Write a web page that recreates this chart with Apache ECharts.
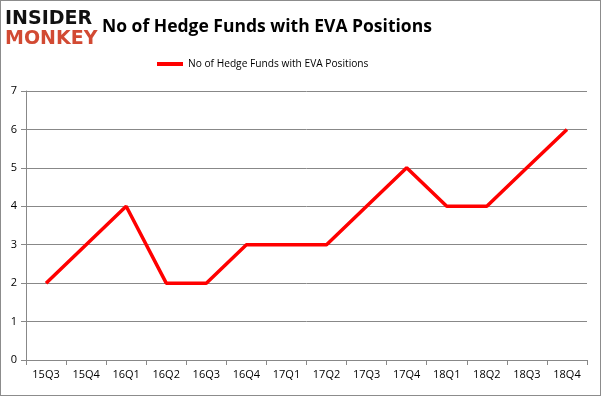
<!DOCTYPE html>
<html>
<head>
<meta charset="utf-8">
<script src="https://cdn.jsdelivr.net/npm/echarts@6/dist/echarts.min.js"></script>
<style>
  html, body { margin: 0; padding: 0; background: #fff; }
  #chart { width: 599px; height: 394px; border: 1px solid #8c8c8c; }
</style>
</head>
<body>
<div id="chart"></div>
<script>
// data
const quarters = ['15Q3', '15Q4', '16Q1', '16Q2', '16Q3', '16Q4', '17Q1', '17Q2', '17Q3', '17Q4', '18Q1', '18Q2', '18Q3', '18Q4'];
const fundCounts = [2, 3, 4, 2, 2, 3, 3, 3, 4, 5, 4, 4, 5, 6];
const seriesName = 'No of Hedge Funds with EVA Positions';

const chart = echarts.init(document.getElementById('chart'));

var option = {
  backgroundColor: '#ffffff',
  animation: false,
  color: ['#ff0000'],
  title: {
    text: 'No of Hedge Funds with EVA Positions',
    left: 96,
    top: 12,
    textStyle: {
      fontFamily: 'Open Sans',
      fontWeight: 'bold',
      fontSize: 17.5,
      color: '#000'
    }
  },
  graphic: [
    {
      type: 'text',
      left: 4,
      top: 9,
      style: { text: 'INSIDER', fontFamily: 'DejaVu Sans', fontWeight: 'bold', fontSize: 19, fill: '#111' }
    },
    {
      type: 'text',
      left: 4,
      top: 29,
      style: { text: 'MONKEY', fontFamily: 'DejaVu Sans', fontWeight: 'bold', fontSize: 19, fill: '#d24a33' }
    }
  ],
  legend: {
    top: 53,
    left: 151,
    itemWidth: 26,
    itemHeight: 4,
    icon: 'rect',
    textStyle: { fontFamily: 'Open Sans', fontSize: 10.2, color: '#000' },
    data: [seriesName]
  },
  grid: {
    left: 25,
    right: 13,
    top: 90,
    bottom: 35
  },
  xAxis: {
    type: 'category',
    data: quarters,
    boundaryGap: true,
    axisLine: { lineStyle: { color: '#888' } },
    axisTick: { show: true, length: 5, lineStyle: { color: '#888' } },
    axisLabel: { fontFamily: 'Open Sans', fontSize: 11, color: '#000', margin: 9 }
  },
  yAxis: {
    type: 'value',
    min: 0,
    max: 7,
    interval: 1,
    axisLine: { show: true, lineStyle: { color: '#888' } },
    axisTick: { show: true, length: 5, lineStyle: { color: '#888' } },
    axisLabel: { fontFamily: 'Open Sans', fontSize: 11, color: '#000', margin: 9 },
    splitLine: { lineStyle: { color: '#888' } }
  },
  series: [{
    name: seriesName,
    type: 'line',
    data: fundCounts,
    symbol: 'none',
    lineStyle: { width: 3.5, color: '#ff0000' }
  }]
};

chart.setOption(option);
</script>
</body>
</html>
